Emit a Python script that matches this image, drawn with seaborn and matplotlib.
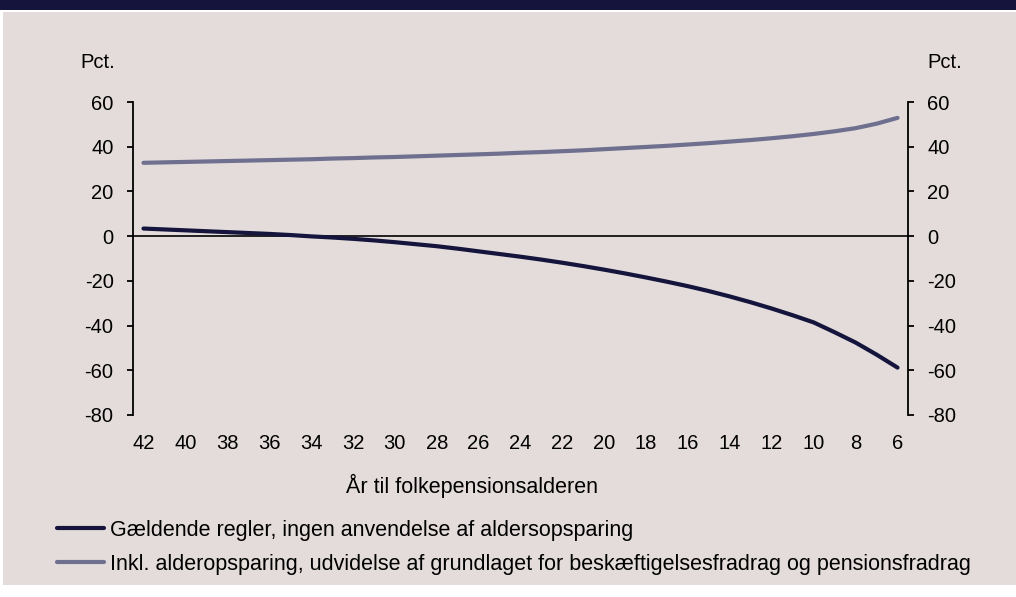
import numpy as np
import pandas as pd
import matplotlib
matplotlib.use("Agg")
import matplotlib.pyplot as plt
from matplotlib.patches import Rectangle
import seaborn as sns

# År til folkepensionsalderen (42 -> 6)
years = list(range(42, 5, -1))

# Gældende regler, ingen anvendelse af aldersopsparing
gaeldende = [3.4, 3.0, 2.6, 2.2, 1.8, 1.4, 1.0, 0.5, -0.1, -0.6,
             -1.2, -1.9, -2.7, -3.6, -4.5, -5.6, -6.8, -8.0, -9.2, -10.5,
             -11.9, -13.4, -15.0, -16.7, -18.5, -20.4, -22.4, -24.6, -27.0, -29.6,
             -32.4, -35.4, -38.6, -43.0, -47.6, -53.0, -58.8]

# Inkl. alderopsparing, udvidelse af grundlaget ...
inkl = [32.8, 33.0, 33.2, 33.4, 33.6, 33.8, 34.0, 34.2, 34.4, 34.7,
        34.9, 35.2, 35.4, 35.7, 36.0, 36.3, 36.6, 36.9, 37.3, 37.6,
        38.0, 38.4, 38.9, 39.4, 39.9, 40.4, 41.0, 41.6, 42.3, 43.0,
        43.8, 44.7, 45.7, 46.9, 48.3, 50.3, 52.9]

labels = ["Gældende regler, ingen anvendelse af aldersopsparing",
          "Inkl. alderopsparing, udvidelse af grundlaget for beskæftigelsesfradrag og pensionsfradrag"]
colors = ["#14143c", "#6f6f8f"]
xticks = list(range(42, 5, -2))
yticks = list(range(-80, 61, 20))

df = pd.DataFrame({
    "year": years * 2,
    "value": gaeldende + inkl,
    "serie": [labels[0]] * len(years) + [labels[1]] * len(years),
})

sns.set_style("white")
plt.rcParams["font.family"] = ["Liberation Sans", "DejaVu Sans"]
plt.rcParams["axes.unicode_minus"] = False
plt.rcParams["text.color"] = "black"
plt.rcParams["xtick.color"] = "black"
plt.rcParams["ytick.color"] = "black"

W, H = 1016, 597
fs = 14.5
fig = plt.figure(figsize=(W / 100, H / 100), dpi=100, facecolor="white")

# baggrund og top-bånd
fig.patches.append(Rectangle((3 / W, 1 - 585 / H), 1 - 3 / W, (585 - 12) / H,
                             transform=fig.transFigure, facecolor="#e3dcda",
                             edgecolor="none", zorder=-10))
fig.patches.append(Rectangle((0, 1 - 10 / H), 1, 10 / H,
                             transform=fig.transFigure, facecolor="#14143c",
                             edgecolor="none", zorder=-10))

ax = fig.add_axes([133 / W, 1 - 415 / H, (908 - 133) / W, (415 - 102) / H])
ax.set_facecolor("none")

sns.lineplot(data=df, x="year", y="value", hue="serie", palette=colors,
             linewidth=3, ax=ax, legend=False)
ax.axhline(0, color="black", lw=1.2, zorder=1)

ax.set_xlim(42.5, 5.5)
ax.set_ylim(-80, 60)
ax.set_xticks(xticks)
ax.set_yticks(yticks)
ax.set_xlabel("")
ax.set_ylabel("")

for s in ["top", "bottom"]:
    ax.spines[s].set_visible(False)
for s in ["left", "right"]:
    ax.spines[s].set_visible(True)
    ax.spines[s].set_color("black")
    ax.spines[s].set_linewidth(1.3)

ax.tick_params(axis="y", left=True, right=True, labelleft=True, labelright=True,
               direction="out", length=4, width=1.3, color="black",
               labelcolor="black", labelsize=fs, pad=10)
ax.tick_params(axis="x", length=0, labelsize=fs, labelcolor="black", pad=14)

fig.text(80 / W, 1 - 63 / H, "Pct.", fontsize=fs, va="center", ha="left")
fig.text(927 / W, 1 - 63 / H, "Pct.", fontsize=fs, va="center", ha="left")
fig.text(472 / W, 1 - 486 / H, "År til folkepensionsalderen", fontsize=15.5,
         va="center", ha="center")

handles = [plt.Line2D([], [], color=c, lw=3) for c in colors]
leg = fig.legend(handles, labels, loc="upper left", bbox_to_anchor=(57 / W, 1 - 520 / H),
                 frameon=False, fontsize=15.5, handlelength=2.2, handletextpad=0.25,
                 labelspacing=0.6, borderpad=0, borderaxespad=0)
for t in leg.get_texts():
    t.set_color("black")

fig.savefig("out.png", dpi=100, facecolor="white")
